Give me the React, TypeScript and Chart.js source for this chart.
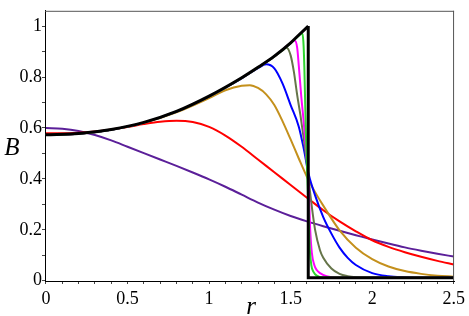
import React, { useEffect, useRef } from "react";
import { Chart, registerables } from "chart.js";

Chart.register(...registerables);

// r grid used by the smooth long-range curves
const gridR = [0, 0.1, 0.2, 0.3, 0.4, 0.5, 0.6, 0.7, 0.8, 0.9, 1.0, 1.1, 1.2, 1.3, 1.4, 1.5, 1.6, 1.7, 1.8, 1.9, 2.0, 2.1, 2.2, 2.3, 2.4, 2.5];

const purpleB = [0.6, 0.597, 0.588, 0.572, 0.551, 0.526, 0.501, 0.476, 0.451, 0.425, 0.398, 0.369, 0.338, 0.307, 0.279, 0.254, 0.233, 0.214, 0.196, 0.179, 0.162, 0.146, 0.131, 0.118, 0.106, 0.095];
const redB = [0.579, 0.579, 0.581, 0.586, 0.594, 0.604, 0.615, 0.624, 0.628, 0.623, 0.604, 0.57, 0.526, 0.476, 0.426, 0.376, 0.326, 0.277, 0.233, 0.194, 0.159, 0.133, 0.112, 0.094, 0.078, 0.064];

const goldR = [0, 0.2, 0.4, 0.6, 0.8, 1.0, 1.1, 1.2, 1.25, 1.3, 1.35, 1.4, 1.45, 1.5, 1.55, 1.6, 1.65, 1.7, 1.8, 1.9, 2.0, 2.1, 2.2, 2.3, 2.4, 2.5];
const goldB = [0.572, 0.577, 0.593, 0.62, 0.661, 0.717, 0.748, 0.766, 0.768, 0.757, 0.732, 0.69, 0.627, 0.555, 0.48, 0.408, 0.348, 0.295, 0.198, 0.13, 0.085, 0.056, 0.038, 0.027, 0.02, 0.016];

const blueR = [0, 0.2, 0.4, 0.6, 0.8, 1.0, 1.2, 1.3, 1.35, 1.4, 1.45, 1.5, 1.55, 1.58, 1.61, 1.65, 1.7, 1.75, 1.8, 1.85, 1.9, 2.0, 2.1, 2.2, 2.3, 2.5];
const blueB = [0.572, 0.577, 0.593, 0.621, 0.664, 0.724, 0.795, 0.835, 0.85, 0.834, 0.775, 0.69, 0.605, 0.52, 0.42, 0.335, 0.25, 0.185, 0.13, 0.09, 0.062, 0.03, 0.018, 0.014, 0.012, 0.012];

const oliveR = [0, 0.2, 0.4, 0.6, 0.8, 1.0, 1.2, 1.3, 1.4, 1.45, 1.475, 1.5, 1.52, 1.54, 1.56, 1.58, 1.6, 1.61, 1.63, 1.65, 1.68, 1.7, 1.75, 1.8, 1.85, 1.9, 2.0, 2.5];
const oliveB = [0.572, 0.577, 0.593, 0.621, 0.664, 0.724, 0.796, 0.837, 0.88, 0.904, 0.915, 0.885, 0.82, 0.73, 0.65, 0.56, 0.46, 0.4, 0.29, 0.2, 0.12, 0.09, 0.048, 0.027, 0.018, 0.014, 0.012, 0.012];

const magentaR = [0, 0.2, 0.4, 0.6, 0.8, 1.0, 1.2, 1.3, 1.4, 1.5, 1.525, 1.54, 1.55, 1.565, 1.58, 1.595, 1.61, 1.62, 1.63, 1.645, 1.66, 1.68, 1.72, 1.8, 2.5];
const magentaB = [0.572, 0.577, 0.593, 0.621, 0.664, 0.724, 0.796, 0.837, 0.881, 0.933, 0.943, 0.915, 0.845, 0.725, 0.625, 0.505, 0.385, 0.2, 0.11, 0.062, 0.042, 0.03, 0.018, 0.013, 0.012];

const greenR = [0, 0.2, 0.4, 0.6, 0.8, 1.0, 1.2, 1.3, 1.4, 1.5, 1.55, 1.57, 1.578, 1.584, 1.589, 1.594, 1.6, 1.607, 1.613, 1.618, 1.627, 1.64, 1.66, 1.7, 2.5];
const greenB = [0.572, 0.577, 0.593, 0.621, 0.664, 0.724, 0.796, 0.837, 0.881, 0.933, 0.962, 0.972, 0.94, 0.84, 0.7, 0.57, 0.45, 0.33, 0.2, 0.12, 0.06, 0.035, 0.02, 0.013, 0.012];

const blackR = [0, 0.2, 0.4, 0.6, 0.8, 1.0, 1.2, 1.3, 1.4, 1.5, 1.55, 1.608];
const blackB = [0.573, 0.578, 0.594, 0.622, 0.665, 0.725, 0.797, 0.838, 0.882, 0.934, 0.965, 1.0];
const blackDropR = [1.608, 1.608, 2.5];
const blackDropB = [1.0, 0.012, 0.012];

const xTickLabels = ["0", "0.5", "1", "1.5", "2", "2.5"];
const yTickLabels = ["0", "0.2", "0.4", "0.6", "0.8", "1"];
const xTitle = "r";
const yTitle = "B";

const pts = (rs: number[], bs: number[]) => rs.map((x, i) => ({ x, y: bs[i] }));

const SERIF = "'Liberation Serif', 'Times New Roman', serif";

const framePlugin = {
  id: "frameAndTitles",
  afterDraw(chart: any) {
    const { ctx, chartArea } = chart;
    ctx.save();
    ctx.strokeStyle = "#555";
    ctx.lineWidth = 1;
    ctx.beginPath();
    ctx.moveTo(chartArea.left, chartArea.top + 0.5);
    ctx.lineTo(chartArea.right, chartArea.top + 0.5);
    ctx.moveTo(chartArea.right - 0.5, chartArea.top);
    ctx.lineTo(chartArea.right - 0.5, chartArea.bottom);
    ctx.stroke();
    ctx.fillStyle = "#000";
    ctx.font = "italic 25px " + SERIF;
    ctx.textAlign = "center";
    ctx.textBaseline = "alphabetic";
    ctx.fillText(yTitle, 12, 155);
    ctx.fillText(xTitle, 251, 314);
    ctx.restore();
  },
};

export default function App() {
  const ref = useRef<HTMLCanvasElement | null>(null);
  useEffect(() => {
    document.body.style.margin = "0";
    const canvas = ref.current;
    if (!canvas) return;
    const line = (label: string, data: any[], color: string, width: number, order: number, mono = true) => ({
      label,
      data,
      borderColor: color,
      backgroundColor: color,
      borderWidth: width,
      pointRadius: 0,
      fill: false,
      order,
      tension: mono ? 0.4 : 0,
      cubicInterpolationMode: mono ? "monotone" : "default",
    });
    const chart = new Chart(canvas, {
      type: "line",
      data: {
        datasets: [
          line("black", pts(blackR, blackB), "#000000", 3, 0),
          line("blackDrop", pts(blackDropR, blackDropB), "#000000", 3, 0, false),
          line("green", pts(greenR, greenB), "#2fd62f", 2, 1),
          line("magenta", pts(magentaR, magentaB), "#ff00ff", 2, 2),
          line("olive", pts(oliveR, oliveB), "#66754a", 2, 3),
          line("blue", pts(blueR, blueB), "#0000ff", 2, 4),
          line("gold", pts(goldR, goldB), "#c4901c", 2, 5),
          line("red", pts(gridR, redB), "#ff0000", 2, 6),
          line("purple", pts(gridR, purpleB), "#5b1f99", 2, 7),
        ] as any,
      },
      options: {
        responsive: false,
        animation: false,
        parsing: false as any,
        layout: { padding: { top: 5, right: 13, left: 0, bottom: 0 } },
        plugins: { legend: { display: false }, tooltip: { enabled: false } },
        scales: {
          x: {
            type: "linear",
            min: -0.006,
            max: 2.502,
            afterFit: (s: any) => { s.height = 35; },
            grid: { display: true, drawOnChartArea: false, drawTicks: true, tickLength: 3, tickColor: "#444" },
            border: { display: true, color: "#000", width: 1 },
            ticks: {
              stepSize: 0.1,
              includeBounds: false,
              autoSkip: false,
              maxRotation: 0,
              padding: 4,
              color: "#000",
              font: { family: SERIF, size: 18 },
              callback: (v: any) => {
                const n = Math.round(Number(v) * 10);
                if (n % 5 !== 0) return "";
                return xTickLabels[n / 5] ?? "";
              },
            },
          },
          y: {
            type: "linear",
            min: -0.001,
            max: 1.06,
            afterFit: (s: any) => { s.width = 45; },
            grid: { display: true, drawOnChartArea: false, drawTicks: true, tickLength: 3, tickColor: "#444" },
            border: { display: true, color: "#000", width: 1 },
            ticks: {
              stepSize: 0.1,
              includeBounds: false,
              autoSkip: false,
              padding: 0,
              color: "#000",
              font: { family: SERIF, size: 18 },
              callback: (v: any) => {
                const n = Math.round(Number(v) * 10);
                if (n % 2 !== 0) return "";
                return yTickLabels[n / 2] ?? "";
              },
            },
          },
        },
      },
      plugins: [framePlugin],
    } as any);
    return () => chart.destroy();
  }, []);
  return (
    <div style={{ width: 469, height: 316 }}>
      <canvas ref={ref} width={469} height={316} style={{ display: "block" }} />
    </div>
  );
}
